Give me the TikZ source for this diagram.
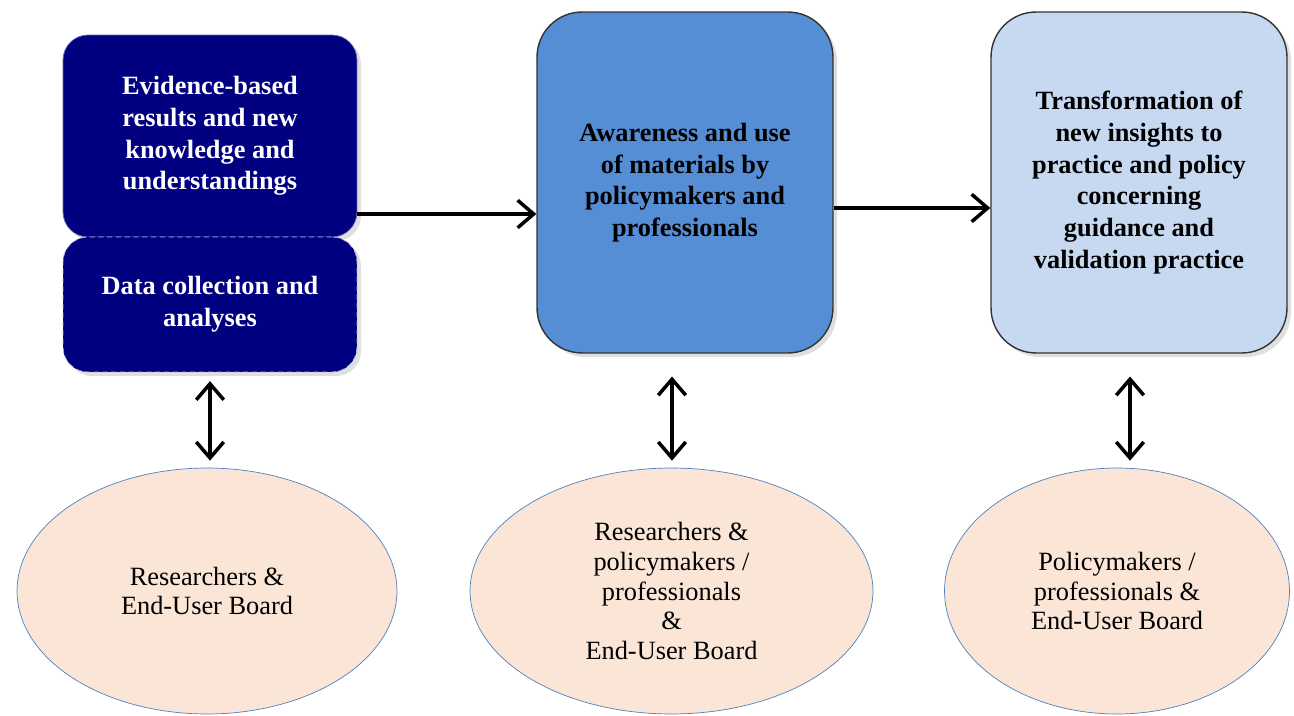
\documentclass[tikz,border=0pt]{standalone}
\usepackage{fontspec}
\setmainfont{Liberation Serif}
\usetikzlibrary{shapes,arrows.meta,shadows,positioning}
\definecolor{navybox}{HTML}{000080}
\definecolor{midblue}{HTML}{558ED5}
\definecolor{paleblue}{HTML}{C6D9F1}
\definecolor{peach}{HTML}{FBE5D6}
\definecolor{rimblue}{HTML}{4F81BD}
\tikzset{
  stage/.style = {rectangle, align=center, inner sep=0pt, text centered,
    font=\fontsize{15}{18}\selectfont\bfseries},
  stage_d/.style = {stage, fill=navybox, text=white, draw=navybox!60,
    rounded corners=0.5cm, minimum width=5.88cm, drop shadow={opacity=0.25}},% dark stage
  stage_m/.style = {stage, fill=midblue, draw=black!80, thick,
    rounded corners=0.9cm, minimum width=5.92cm, minimum height=6.82cm,
    drop shadow={opacity=0.25}},% middle stage
  stage_l/.style = {stage, fill=paleblue, draw=black!80, thick,
    rounded corners=0.9cm, minimum width=5.92cm, minimum height=6.82cm,
    drop shadow={opacity=0.25}},% light stage
  actors/.style = {ellipse, fill=peach, draw=rimblue, align=center,
    inner sep=0pt, minimum height=4.92cm,
    font=\fontsize{15}{17}\selectfont},% who is involved
  link/.style = {-{Straight Barb[length=3.2mm,width=5.5mm,line width=2pt]},
    line width=2pt},
  dlink/.style = {{Straight Barb[length=3.2mm,width=5.5mm,line width=2pt]}-{Straight Barb[length=3.2mm,width=5.5mm,line width=2pt]},
    line width=2pt}
}
\begin{document}
\begin{tikzpicture}[x=0.02cm,y=-0.02cm]
  \useasboundingbox (0,0) rectangle (1294,716);
  % stages
  \node [stage_d, minimum height=4.04cm] (ev) at (210,136)
    {Evidence-based\\results and new\\knowledge and\\understandings};
  \node [stage_d, minimum height=2.7cm, draw=white!70!navybox, densely dashed,
    thin] (dc) at (210,304.5) {Data collection and\\analyses};
  \node [stage_m] (aw) at (685,182.5)
    {Awareness and use\\of materials by\\policymakers and\\professionals};
  \node [stage_l] (tr) at (1139,182.5)
    {Transformation of\\new insights to\\practice and policy\\concerning\\guidance and\\validation practice};
  % actors
  \node [actors, minimum width=7.6cm] (rb) at (207,591)
    {Researchers \&\\End-User Board};
  \node [actors, minimum width=8.06cm] (rp) at (671.5,591)
    {Researchers \&\\policymakers /\\professionals\\\&\\End-User Board};
  \node [actors, minimum width=6.9cm] (pp) at (1117,591)
    {Policymakers /\\professionals \&\\End-User Board};
  % arrows
  \coordinate (h1) at (0,214);
  \coordinate (h2) at (0,208);
  \coordinate (v2) at (672,0);
  \coordinate (v3) at (1130,0);
  \draw [link] (ev.east |- h1) -- (aw.west |- h1);
  \draw [link] (aw.east |- h2) -- (tr.west |- h2);
  \draw [dlink, shorten <=5pt, shorten >=4pt] (dc.south) -- (dc.south |- rb.north);
  \draw [dlink, shorten <=13pt, shorten >=4pt] (aw.south -| v2) -- (rp.north -| v2);
  \draw [dlink, shorten <=13pt, shorten >=4pt] (tr.south -| v3) -- (pp.north -| v3);
\end{tikzpicture}
\end{document}
